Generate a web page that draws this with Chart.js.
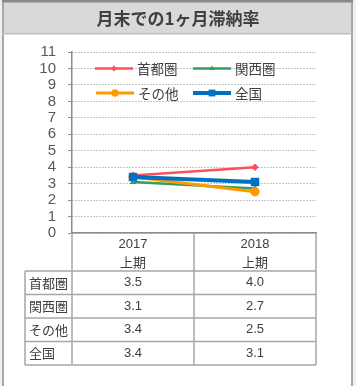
<!DOCTYPE html>
<html><head><meta charset="utf-8">
<script src="https://cdn.jsdelivr.net/npm/chart.js@4.4.0/dist/chart.umd.min.js"></script>
<style>html,body{margin:0;padding:0;background:#fff;overflow:hidden}canvas{display:block}</style>
</head><body>
<canvas id="c" width="356" height="386"></canvas>
<script>
// ---- data ----
const chartTitle = '月末での1ヶ月滞納率';
const categories = [['2017', '上期'], ['2018', '上期']];
const seriesNames = ['首都圏', '関西圏', 'その他', '全国'];
const shutoken = [3.5, 4.0];
const kansai = [3.1, 2.7];
const sonota = [3.4, 2.5];
const zenkoku = [3.4, 3.1];
const yTickValues = [0, 1, 2, 3, 4, 5, 6, 7, 8, 9, 10, 11];

// ---- styles ----
const colors = ['#fb4f5b', '#2f9e5e', '#ff9900', '#0070c0'];
const lineWidths = [2.5, 2.5, 3, 4];
const pointStyles = ['rectRot', 'triangle', 'circle', 'rect'];
const pointRadii = [3.8, 3.8, 4.6, 6];
const seriesValues = [shutoken, kansai, sonota, zenkoku];
const CJK = '"Noto Sans CJK JP", "Noto Sans", sans-serif';
const NUM = '"Liberation Sans", Arial, sans-serif';

const datasets = seriesNames.map((name, i) => ({
  label: name,
  data: seriesValues[i],
  borderColor: colors[i],
  backgroundColor: colors[i],
  borderWidth: lineWidths[i],
  pointStyle: pointStyles[i],
  pointRadius: pointRadii[i],
  pointBorderWidth: 0,
  pointBorderColor: colors[i],
  pointBackgroundColor: colors[i],
  tension: 0,
  order: 4 - i
}));

function drawMarker(ctx, style, x, y, r, color) {
  ctx.save();
  ctx.fillStyle = color;
  ctx.beginPath();
  if (style === 'circle') {
    ctx.arc(x, y, r, 0, Math.PI * 2);
  } else if (style === 'rect') {
    const s = r * Math.SQRT1_2;
    ctx.rect(x - s, y - s, 2 * s, 2 * s);
  } else if (style === 'rectRot') {
    ctx.moveTo(x, y - r); ctx.lineTo(x + r, y); ctx.lineTo(x, y + r); ctx.lineTo(x - r, y);
    ctx.closePath();
  } else if (style === 'triangle') {
    ctx.moveTo(x, y - r); ctx.lineTo(x + r * 0.87, y + r * 0.5); ctx.lineTo(x - r * 0.87, y + r * 0.5);
    ctx.closePath();
  }
  ctx.fill();
  ctx.restore();
}

const framePlugin = {
  id: 'frame',
  beforeDraw(chart) {
    const ctx = chart.ctx;
    ctx.save();
    ctx.fillStyle = '#f0f0f0';
    ctx.fillRect(0, 0, 356, 386);
    ctx.fillStyle = '#ffffff';
    ctx.fillRect(3, 0, 349, 386);
    ctx.fillStyle = '#a8a8a8';
    ctx.fillRect(2, 0, 2, 386);
    ctx.fillRect(351, 0, 2, 386);
    ctx.fillStyle = '#d9d9d9';
    ctx.fillRect(4, 0, 347, 33);
    ctx.fillStyle = '#8a8a8a';
    ctx.fillRect(2, 0, 351, 2.5);
    ctx.fillStyle = '#bdbdbd';
    ctx.fillRect(2, 33, 351, 1.5);
    ctx.fillStyle = '#404040';
    ctx.font = 'bold 17px ' + CJK;
    ctx.textAlign = 'center';
    ctx.textBaseline = 'middle';
    ctx.fillText(chartTitle, 178, 19);
    ctx.restore();
  },
  afterDraw(chart) {
    const ctx = chart.ctx;
    const area = chart.chartArea;
    const xs = chart.scales.x;
    const legendPos = [
      {x: 95, y: 68.5}, {x: 193, y: 68.5},
      {x: 96, y: 93}, {x: 193, y: 93}
    ];
    ctx.save();
    ctx.font = '13.5px ' + CJK;
    ctx.textBaseline = 'middle';
    ctx.textAlign = 'left';
    seriesNames.forEach((name, i) => {
      const p = legendPos[i];
      ctx.strokeStyle = colors[i];
      ctx.lineWidth = lineWidths[i];
      ctx.beginPath();
      ctx.moveTo(p.x, p.y); ctx.lineTo(p.x + 38, p.y);
      ctx.stroke();
      drawMarker(ctx, pointStyles[i], p.x + 19, p.y, pointRadii[i] * 0.8, colors[i]);
      ctx.fillStyle = '#404040';
      ctx.fillText(name, p.x + 42, p.y + 0.5);
    });
    ctx.restore();

    const left = area.left, right = area.right, top = area.bottom;
    const mid = (xs.getPixelForValue(0) + xs.getPixelForValue(1)) / 2;
    const labelLeft = 25;
    const headerBottom = 271;
    const rowH = 23.5;
    const tableBottom = headerBottom + rowH * seriesNames.length;
    ctx.save();
    ctx.strokeStyle = '#a6a6a6';
    ctx.lineWidth = 1.5;
    ctx.beginPath();
    [left, mid, right].forEach(x => { ctx.moveTo(x, top); ctx.lineTo(x, tableBottom); });
    ctx.moveTo(labelLeft, headerBottom); ctx.lineTo(labelLeft, tableBottom);
    for (let r = 0; r <= seriesNames.length; r++) {
      const y = headerBottom + r * rowH;
      ctx.moveTo(labelLeft, y); ctx.lineTo(right, y);
    }
    ctx.stroke();
    ctx.fillStyle = '#404040';
    ctx.textBaseline = 'middle';
    ctx.textAlign = 'center';
    categories.forEach((cat, j) => {
      const cx = xs.getPixelForValue(j);
      ctx.font = '13px ' + NUM;
      ctx.fillText(cat[0], cx, 244);
      ctx.font = '13px ' + CJK;
      ctx.fillText(cat[1], cx, 262);
    });
    seriesNames.forEach((name, i) => {
      const cy = headerBottom + rowH * (i + 0.5);
      ctx.textAlign = 'left';
      ctx.font = '13px ' + CJK;
      ctx.fillText(name, labelLeft + 4, cy);
      ctx.textAlign = 'center';
      ctx.font = '13px ' + NUM;
      seriesValues[i].forEach((v, j) => {
        ctx.fillText(v.toFixed(1), xs.getPixelForValue(j), cy);
      });
    });
    ctx.restore();
  }
};

new Chart(document.getElementById('c'), {
  type: 'line',
  data: { labels: categories.map(c => c.join(' ')), datasets },
  options: {
    responsive: false,
    animation: false,
    devicePixelRatio: 1,
    layout: { padding: { top: 52, left: 0, right: 40, bottom: 0 } },
    plugins: { legend: { display: false }, title: { display: false }, tooltip: { enabled: false } },
    scales: {
      x: {
        type: 'category',
        offset: true,
        grid: { display: false },
        ticks: { display: false },
        border: { display: true, color: '#8c8c8c', width: 1.5 },
        afterFit(s) { s.height = 153; }
      },
      y: {
        min: 0, max: 11,
        afterBuildTicks(s) { s.ticks = yTickValues.map(v => ({ value: v })); },
        ticks: { color: '#595959', font: { family: NUM, size: 15 }, padding: 12, autoSkip: false },
        grid: { color: '#8f8f8f', lineWidth: 1, tickLength: 4, tickColor: '#8c8c8c', tickBorderDash: [] },
        border: { display: true, color: '#8c8c8c', width: 1.5, dash: [1, 2] },
        afterFit(s) { s.width = 72; }
      }
    }
  },
  plugins: [framePlugin]
});
</script>
</body></html>
